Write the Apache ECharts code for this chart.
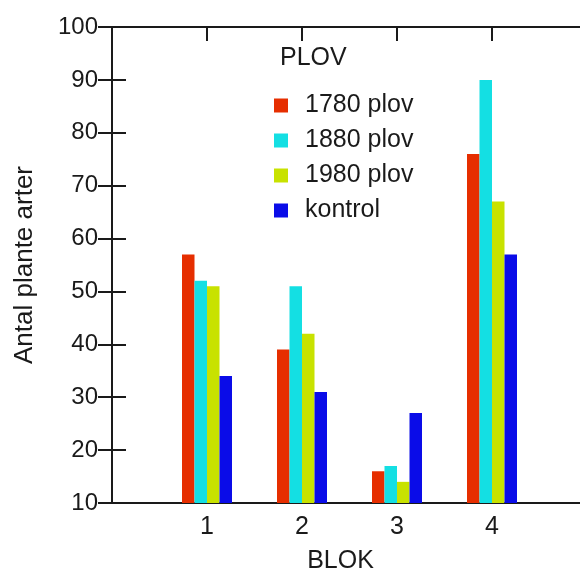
<!DOCTYPE html>
<html>
<head>
<meta charset="utf-8">
<script src="https://cdn.jsdelivr.net/npm/echarts@6/dist/echarts.min.js"></script>
<style>
html,body{margin:0;padding:0;background:#fff;}
#chart{width:580px;height:572px;}
</style>
</head>
<body>
<div id="chart"></div>
<script>
// Data
const blocks = [1, 2, 3, 4];
const seriesNames = ['1780 plov', '1880 plov', '1980 plov', 'kontrol'];
const plov1780 = [57, 39, 16, 76];
const plov1880 = [52, 51, 17, 90];
const plov1980 = [51, 42, 14, 67];
const kontrol = [34, 31, 27, 57];
const yTicks = [10, 20, 30, 40, 50, 60, 70, 80, 90, 100];
const colors = ['#e62e00', '#14dfe3', '#c8e200', '#0a0ce8'];

const values = [plov1780, plov1880, plov1980, kontrol];
const FONT = 'Liberation Sans, Arial, sans-serif';
const INK = '#1a1a1a';

const chart = echarts.init(document.getElementById('chart'), null, {renderer: 'canvas'});

const axisLine = {show: true, lineStyle: {color: INK, width: 2}};
const tickStyle = {show: true, inside: true, length: 14, lineStyle: {color: INK, width: 2}};

const option = {
  animation: false,
  backgroundColor: '#fff',
  title: {
    text: 'PLOV',
    left: 280,
    top: 46,
    padding: 0,
    textStyle: {fontFamily: FONT, fontSize: 25, fontWeight: 'normal', color: INK}
  },
  legend: {
    data: seriesNames,
    orient: 'vertical',
    left: 274,
    top: 93,
    padding: 0,
    icon: 'rect',
    itemWidth: 14,
    itemHeight: 14,
    itemGap: 10,
    textStyle: {fontFamily: FONT, fontSize: 25, color: INK, lineHeight: 25, padding: [0, 0, 0, 12]}
  },
  grid: {left: 112, top: 27, bottom: 69, width: 475, containLabel: false, outerBoundsMode: 'none'},
  xAxis: [
    {
      type: 'value',
      position: 'bottom',
      min: 0, max: 5, interval: 1,
      name: 'BLOK',
      nameLocation: 'middle',
      nameGap: 46,
      nameTextStyle: {fontFamily: FONT, fontSize: 25, color: INK, padding: [0, 18, 0, 0]},
      axisLine: axisLine,
      axisTick: tickStyle,
      splitLine: {show: false},
      axisLabel: {
        fontFamily: FONT, fontSize: 25, color: INK, margin: 12,
        formatter: v => (blocks.indexOf(v) >= 0 ? String(v) : '')
      }
    },
    {
      type: 'value',
      position: 'top',
      min: 0, max: 5, interval: 1,
      axisLine: axisLine,
      axisTick: tickStyle,
      splitLine: {show: false},
      axisLabel: {show: false}
    }
  ],
  yAxis: [
    {
      type: 'value',
      position: 'left',
      min: yTicks[0], max: yTicks[yTicks.length - 1], interval: 10,
      name: 'Antal plante arter',
      nameLocation: 'middle',
      nameGap: 74,
      nameTextStyle: {fontFamily: FONT, fontSize: 26, color: INK},
      axisLine: axisLine,
      axisTick: tickStyle,
      splitLine: {show: false},
      axisLabel: {fontFamily: FONT, fontSize: 24, color: INK, margin: 14}
    },
    {
      type: 'value',
      position: 'right',
      min: yTicks[0], max: yTicks[yTicks.length - 1], interval: 10,
      axisLine: axisLine,
      axisTick: tickStyle,
      splitLine: {show: false},
      axisLabel: {show: false}
    }
  ],
  series: seriesNames.map((name, i) => ({
    name: name,
    type: 'bar',
    xAxisIndex: 0,
    yAxisIndex: 0,
    barWidth: 12.5,
    barGap: '0%',
    itemStyle: {color: colors[i]},
    data: blocks.map((b, j) => [b, values[i][j]])
  }))
};

chart.setOption(option);
</script>
</body>
</html>
